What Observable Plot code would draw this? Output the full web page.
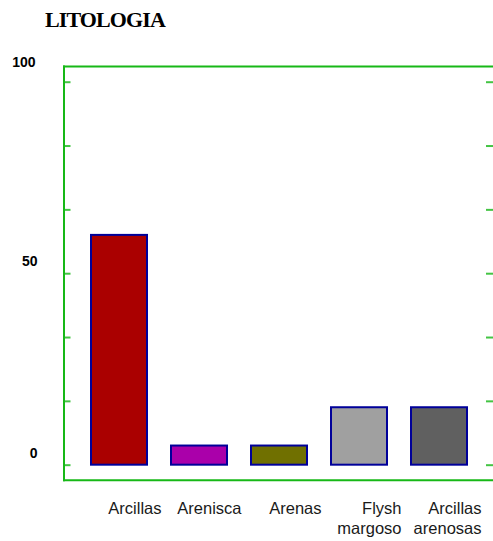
<!DOCTYPE html>
<html>
<head>
<meta charset="utf-8">
<script src="https://cdn.jsdelivr.net/npm/d3@7"></script>
<script src="https://cdn.jsdelivr.net/npm/@observablehq/plot@0.6"></script>
<style>
  html, body { margin: 0; padding: 0; background: #fff; }
  #wrap { position: relative; width: 493px; height: 541px; overflow: hidden; }
  #title { position: absolute; left: 45px; top: 9px; font-family: "Liberation Serif", "Times New Roman", serif;
           font-weight: bold; font-size: 22px; line-height: 22px; letter-spacing: -0.9px; color: #000; }
  #chart { position: absolute; left: 0; top: 0; }
</style>
</head>
<body>
<div id="wrap">
  <div id="chart"></div>
  <div id="title">LITOLOGIA</div>
</div>
<script>
// Data
const categories = ["Arcillas", "Arenisca", "Arenas", "Flysh margoso", "Arcillas arenosas"];
const values = [60, 5, 5, 15, 15];
const barColors = ["#aa0000", "#aa00aa", "#707000", "#a0a0a0", "#606060"];
const yTickValues = [0, 16.667, 33.333, 50, 66.667, 83.333, 100];
const yLabelValues = [0, 50, 100];

const data = categories.map((c, i) => ({cat: c, value: values[i]}));

const frameGreen = "#17b817";
const tickGreen = "#44c444";
const W = 493, H = 541, ML = 63.5, MR = 0, MT = 66, MB = 61.3;

const chart = Plot.plot({
  width: W,
  height: H,
  marginTop: MT,
  marginBottom: MB,
  marginLeft: ML,
  marginRight: MR,
  x: {domain: categories, range: [67, 491], padding: 0.3, axis: null},
  y: {domain: [-3.92, 104.1], axis: null},
  color: {domain: categories, range: barColors},
  style: {fontFamily: "'Liberation Sans', Arial, sans-serif", background: "white", overflow: "visible"},
  marks: [
    Plot.barY(data, {x: "cat", y: "value", fill: "cat", stroke: "#000099", strokeWidth: 2}),
    Plot.tickY(yTickValues, {y: d => d, stroke: tickGreen, strokeWidth: 2, insetRight: W - ML - MR - 7}),
    Plot.tickY(yTickValues, {y: d => d, stroke: tickGreen, strokeWidth: 2, insetLeft: W - ML - MR - 7}),
    Plot.frame({anchor: "top", stroke: frameGreen, strokeWidth: 2}),
    Plot.frame({anchor: "left", stroke: frameGreen, strokeWidth: 2}),
    Plot.frame({anchor: "bottom", stroke: frameGreen, strokeWidth: 2}),
    Plot.text(yLabelValues.filter(v => v < 100), {
      y: d => d, text: d => String(d), frameAnchor: "left", textAnchor: "end",
      dx: -26.5, dy: -12, fontWeight: "bold", fontSize: 14, fill: "#000"
    }),
    Plot.text(yLabelValues.filter(v => v >= 100), {
      y: d => d, text: d => String(d), frameAnchor: "left", textAnchor: "end",
      dx: -28.5, dy: -20, fontWeight: "bold", fontSize: 14, fill: "#000"
    }),
    Plot.text(categories, {
      x: d => d, text: d => d.replace(" ", "\n"), frameAnchor: "bottom",
      lineAnchor: "top", textAnchor: "end", dx: 42, dy: 20.2,
      fontSize: 16.5, lineHeight: 1.2, fill: "#1a1a1a"
    })
  ]
});
document.getElementById("chart").appendChild(chart);
</script>
</body>
</html>
